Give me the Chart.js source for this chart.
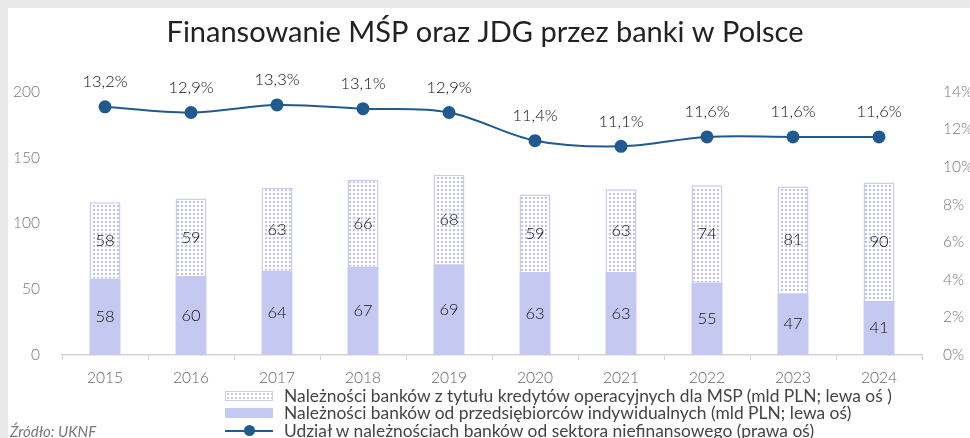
<!DOCTYPE html>
<html>
<head>
<meta charset="utf-8">
<script src="https://cdn.jsdelivr.net/npm/chart.js@4"></script>
<style>
  html,body{margin:0;padding:0;background:#e9e9ec;}
  #wrap{position:relative;width:970px;height:438px;overflow:hidden;background:#e9e9ec;}
  #inner{position:absolute;left:8px;top:8px;width:962px;height:430px;background:#fff;}
  canvas{position:absolute;left:0;top:0;}
  .leg{position:absolute;left:225px;font-family:'Lato',sans-serif;font-size:17.4px;color:#444;white-space:nowrap;line-height:18px;}
  .sw{position:absolute;left:225px;width:48px;}
  #src{position:absolute;left:10px;top:422px;font-family:'Lato',sans-serif;font-style:italic;font-size:15px;color:#777;}
</style>
</head>
<body>
<div id="wrap">
  <div id="inner"></div>
  <canvas id="c" width="970" height="438"></canvas>
  <div class="sw" style="top:391px;height:10px;border:1px solid #c9ccf3;box-sizing:border-box;background-color:#fff;background-image:radial-gradient(#c3c6f0 45%, transparent 50%);background-size:4px 4px;"></div>
  <div class="leg" style="top:387px;left:284px;">Należności banków z tytułu kredytów operacyjnych dla MSP (mld PLN; lewa oś )</div>
  <div class="sw" style="top:408px;height:10px;background:#c5c8f1;"></div>
  <div class="leg" style="top:404px;left:284px;">Należności banków od przedsiębiorców indywidualnych (mld PLN; lewa oś)</div>
  <div class="sw" style="top:430px;height:2px;background:#215a91;"></div>
  <div class="sw" style="top:425px;left:244px;width:11px;height:11px;border-radius:50%;background:#215a91;"></div>
  <div class="leg" style="top:422px;left:284px;">Udział w należnościach banków od sektora niefinansowego (prawa oś)</div>
  <div id="src">Źródło: UKNF</div>
</div>
<script>
const years = ['2015','2016','2017','2018','2019','2020','2021','2022','2023','2024'];
const jdg = [58,60,64,67,69,63,63,55,47,41];
const operacyjne = [58,59,63,66,68,59,63,74,81,90];
const udzial = [13.2,12.9,13.3,13.1,12.9,11.4,11.1,11.6,11.6,11.6];
const leftTicks = [0,50,100,150,200];
const rightTicks = [0,2,4,6,8,10,12,14];

function makePattern(){
  const p = document.createElement('canvas');
  p.width = 4; p.height = 4;
  const g = p.getContext('2d');
  g.fillStyle = '#ffffff'; g.fillRect(0,0,4,4);
  g.fillStyle = '#bfc2ef'; g.fillRect(1,1,2,2);
  return document.getElementById('c').getContext('2d').createPattern(p,'repeat');
}
const fmt = v => v.toFixed(1).replace('.', ',') + '%';

const labelPlugin = {
  id: 'valueLabels',
  afterDatasetsDraw(chart){
    const ctx = chart.ctx;
    ctx.save();
    ctx.textAlign = 'center';
    ctx.textBaseline = 'middle';
    ctx.fillStyle = '#111';
    ctx.font = '300 16.5px Lato, sans-serif';
    [1,2].forEach(di => {
      const meta = chart.getDatasetMeta(di);
      meta.data.forEach((el,i) => {
        const v = chart.data.datasets[di].data[i];
        const y = (el.y + el.base) / 2;
        ctx.fillText(String(v), el.x, y);
      });
    });
    const lm = chart.getDatasetMeta(0);
    lm.data.forEach((el,i) => {
      ctx.fillText(fmt(udzial[i]), el.x, el.y - 25);
    });
    ctx.restore();
  }
};

new Chart(document.getElementById('c'), {
  data: {
    labels: years,
    datasets: [
      { type:'line', label:'Udział', data: udzial, yAxisID:'y1', borderColor:'#215a91', backgroundColor:'#215a91',
        borderWidth:2, pointRadius:5.5, pointHoverRadius:5.5, tension:0.35, order:0 },
      { type:'bar', label:'JDG', data: jdg, yAxisID:'y', backgroundColor:'#c5c8f1', borderWidth:0,
        stack:'s', barPercentage:0.72, categoryPercentage:0.5, order:1 },
      { type:'bar', label:'Operacyjne', data: operacyjne, yAxisID:'y', backgroundColor: makePattern(),
        borderColor:'#c9ccf3', borderWidth:1.5, borderSkipped:'bottom',
        stack:'s', barPercentage:0.72, categoryPercentage:0.5, order:1 }
    ]
  },
  options: {
    responsive:false, animation:false, devicePixelRatio:1,
    layout:{ padding:{ left:0, right:0, top:0, bottom:0 } },
    plugins:{
      legend:{ display:false },
      tooltip:{ enabled:false },
      title:{ display:true, text:'Finansowanie MŚP oraz JDG przez banki w Polsce',
        color:'#222', font:{ family:'Lato', size:29, weight:'normal' }, padding:{ top:15, bottom:42 } }
    },
    scales:{
      x:{ stacked:true,
        grid:{ drawOnChartArea:false, offset:true, color:'#d4d4d4', tickLength:5, tickColor:'#d4d4d4' },
        border:{ color:'#d4d4d4', width:1.5 },
        ticks:{ color:'#666', font:{ family:'Lato', size:15.5, weight:300 }, padding:9 },
        afterFit(s){ s.height = 83; } },
      y:{ stacked:true, position:'left', min:0, max:200,
        afterBuildTicks(s){ s.ticks = leftTicks.map(v=>({value:v})); },
        grid:{ display:false }, border:{ display:false },
        ticks:{ color:'#777', font:{ family:'Lato', size:15.5, weight:300 }, padding:14 },
        afterFit(s){ s.width = 62; } },
      y1:{ position:'right', min:0, max:14,
        afterBuildTicks(s){ s.ticks = rightTicks.map(v=>({value:v})); },
        grid:{ display:false }, border:{ display:false },
        ticks:{ color:'#777', font:{ family:'Lato', size:15.5, weight:300 }, padding:13, callback:v=>v+'%' },
        afterFit(s){ s.width = 48; } }
    }
  },
  plugins:[labelPlugin]
});
</script>
</body>
</html>
